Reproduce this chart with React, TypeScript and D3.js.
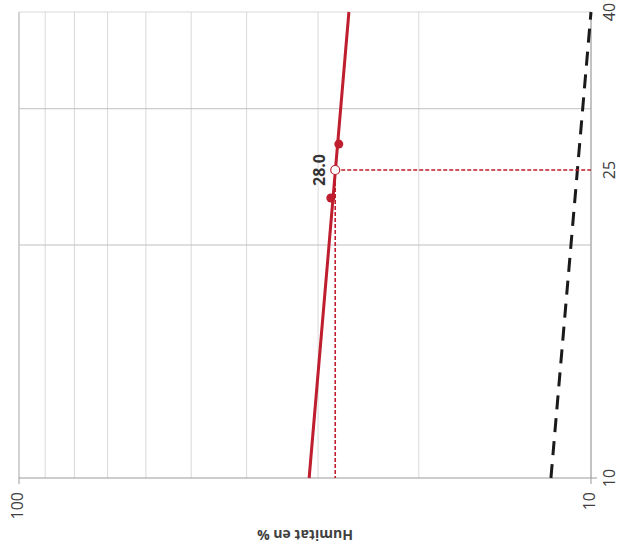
import React from "react";
import * as d3 from "d3";

// Humidity (horizontal, log, reversed) gridlines and labels
const humidityGrid = [10, 20, 30, 40, 50, 60, 70, 80, 90, 100];
const humidityLabels = [100, 10];
// Number of blows (vertical, log)
const blowsGrid = [20, 30];
const blowsLabels = [10, 25, 40];

// Measured points (humidity %, blows)
const pointHumidity = [27.6, 28.5];
const pointBlows = [27, 23];

// Fit line
const fitHumidity = [31.1, 26.5];
const fitBlows = [10, 40];

// Liquid limit at 25 blows
const limitHumidity = 28.0;
const limitBlows = 25;

// Black dashed reference line
const refHumidity = [11.75, 10];
const refBlows = [10, 40];

const W = 620;
const H = 552;
const FONT = "'Open Sans', 'Noto Sans', sans-serif";
const RED = "#be1e2d";

export default function App() {
  const x = d3.scaleLog().domain([100, 10]).range([19, 591]);
  const y = d3.scaleLog().domain([10, 40]).range([478, 12]);

  const line = d3
    .line<[number, number]>()
    .x((d) => x(d[0]))
    .y((d) => y(d[1]));

  const fitData: [number, number][] = fitHumidity.map((h, i) => [h, fitBlows[i]]);
  const refData: [number, number][] = refHumidity.map((h, i) => [h, refBlows[i]]);

  const lx = x(limitHumidity);
  const ly = y(limitBlows);

  return (
    <svg
      width={W}
      height={H}
      style={{ position: "absolute", left: 0, top: 0, background: "#fff" }}
      fontFamily={FONT}
    >
      {/* vertical gridlines */}
      {humidityGrid.map((h) => (
        <line
          key={"vg" + h}
          x1={x(h)}
          x2={x(h)}
          y1={y(40)}
          y2={y(10)}
          stroke={h === 100 ? "#a6a6a6" : "#d9d9d9"}
          strokeWidth={1}
        />
      ))}
      {/* top gridline */}
      <line x1={x(100)} x2={x(10)} y1={y(40)} y2={y(40)} stroke="#d9d9d9" strokeWidth={1} />
      {/* horizontal gridlines */}
      {blowsGrid.map((b) => (
        <line
          key={"hg" + b}
          x1={x(100)}
          x2={x(10)}
          y1={y(b)}
          y2={y(b)}
          stroke="#bfbfbf"
          strokeWidth={1}
        />
      ))}
      {/* axes */}
      <line x1={x(100)} x2={x(10) + 6} y1={y(10)} y2={y(10)} stroke="#9a9a9a" strokeWidth={1} />
      <line x1={x(10)} x2={x(10)} y1={y(40)} y2={y(10) + 6} stroke="#9a9a9a" strokeWidth={1} />
      <line x1={x(100)} x2={x(100)} y1={y(10)} y2={y(10) + 6} stroke="#9a9a9a" strokeWidth={1} />

      {/* black dashed reference line */}
      <path
        d={line(refData) || ""}
        fill="none"
        stroke="#1a1a1a"
        strokeWidth={3}
        strokeDasharray="14 9"
      />

      {/* red fit line */}
      <path d={line(fitData) || ""} fill="none" stroke={RED} strokeWidth={3} />

      {/* dashed guides */}
      <line x1={lx} x2={lx} y1={ly} y2={y(10)} stroke={RED} strokeWidth={1.6} strokeDasharray="4 2" />
      <line x1={lx} x2={x(10)} y1={ly} y2={ly} stroke={RED} strokeWidth={1.6} strokeDasharray="4 2" />

      {/* points */}
      {pointHumidity.map((h, i) => (
        <circle key={"p" + i} cx={x(h)} cy={y(pointBlows[i])} r={4.5} fill={RED} />
      ))}
      <circle cx={lx} cy={ly} r={4.5} fill="#fff" stroke={RED} strokeWidth={1.2} />

      {/* limit label */}
      <text
        transform={`translate(${lx - 10},${ly}) rotate(-90)`}
        textAnchor="middle"
        fontSize={16}
        fontWeight="bold"
        fill="#333"
      >
        {limitHumidity.toFixed(1)}
      </text>

      {/* bottom labels */}
      {humidityLabels.map((h) => (
        <text
          key={"hl" + h}
          transform={`translate(${x(h)},${y(10) + 14}) rotate(-90)`}
          textAnchor="end"
          dominantBaseline="middle"
          fontSize={16}
          fill="#404040"
        >
          {h}
        </text>
      ))}
      {/* right labels */}
      {blowsLabels.map((b) => (
        <text
          key={"bl" + b}
          transform={`translate(${x(10) + 24},${y(b)}) rotate(-90)`}
          textAnchor="middle"
          fontSize={16}
          fill="#404040"
        >
          {b}
        </text>
      ))}

      {/* axis title (upside down) */}
      <text
        transform={`translate(305,530) rotate(180)`}
        textAnchor="middle"
        fontSize={14}
        fontWeight="bold"
        fill="#404040"
      >
        Humitat en %
      </text>
    </svg>
  );
}
